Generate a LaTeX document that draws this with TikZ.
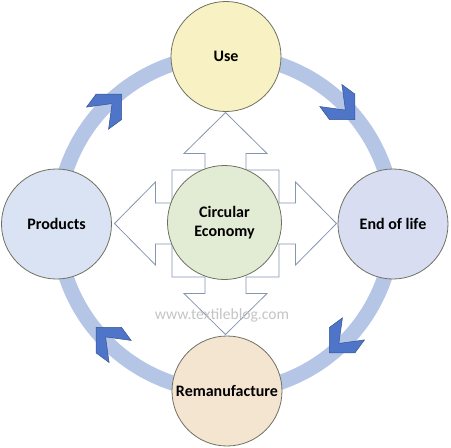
\documentclass[tikz,border=0pt]{standalone}
\usepackage{fontspec}
\setmainfont{Carlito}
\definecolor{ringblue}{RGB}{180,197,230}
\definecolor{chevfill}{RGB}{79,117,200}
\definecolor{chevline}{RGB}{52,84,150}
\definecolor{rimgray}{RGB}{112,112,98}
\definecolor{crossline}{RGB}{132,150,176}
\definecolor{usefill}{RGB}{247,241,196}
\definecolor{prodfill}{RGB}{218,227,243}
\definecolor{endfill}{RGB}{216,221,241}
\definecolor{remfill}{RGB}{244,229,209}
\definecolor{ecofill}{RGB}{226,236,213}
\definecolor{markgray}{RGB}{196,196,196}
\tikzset{
  stage/.style={circle, draw=rimgray, line width=0.8pt, minimum size=110pt,
    inner sep=0pt, align=center, font=\fontsize{16}{19.5}\selectfont\bfseries},
  chevron/.style={fill=chevfill, draw=chevline, line width=0.5pt, line join=miter}
}
\begin{document}
\begin{tikzpicture}[x=1pt,y=1pt]
                    \useasboundingbox (-225.5,-224.5) rectangle (225.5,223.5);

                    % ring
                    \draw[ringblue, line width=15pt] (0,0) circle (168);

                    % turning marks on the ring
                    \foreach \a in {45,135,225,315}
                    {
                        \draw[chevron, shift={(\a:165)}, rotate=\a-90]
                            (18,0) -- (0,18) -- (-16,15.6) -- (4.6,0) -- (-16,-15.6) -- (0,-18) -- cycle;
                    }

                    % four way arrow
                    \draw[crossline, fill=white, line width=0.8pt]
                        (53.5,20.5) -- (70,20.5) -- (70,41.5) -- (111,0) -- (70,-41.5) -- (70,-20.5) -- (53.5,-20.5)
                        -- (53.5,-53.5) -- (20.5,-53.5) -- (20.5,-70) -- (41.5,-70) -- (0,-111) -- (-41.5,-70) -- (-20.5,-70) -- (-20.5,-53.5)
                        -- (-53.5,-53.5) -- (-53.5,-20.5) -- (-70,-20.5) -- (-70,-41.5) -- (-111,0) -- (-70,41.5) -- (-70,20.5) -- (-53.5,20.5)
                        -- (-53.5,53.5) -- (-20.5,53.5) -- (-20.5,70) -- (-41.5,70) -- (0,111) -- (41.5,70) -- (20.5,70) -- (20.5,53.5)
                        -- (53.5,53.5) -- cycle;

                    \node[stage, fill=usefill] (use) at (0.5,167) {Use};
                    \node[stage, fill=prodfill] (products) at (-169,-0.5) {Products};
                    \node[stage, fill=endfill] (endoflife) at (167.5,-0.5) {End of life};
                    \node[stage, fill=remfill] (reman) at (1.5,-167.5) {Remanufacture};
                    \node[stage, fill=ecofill, minimum size=114pt] (economy) at (-1,1) {Circular\\Economy};

                    \node[markgray, font=\fontsize{15.6}{18}\selectfont] (mark) at (-3.5,-91.5) {www.textileblog.com};
                \end{tikzpicture}
\end{document}
